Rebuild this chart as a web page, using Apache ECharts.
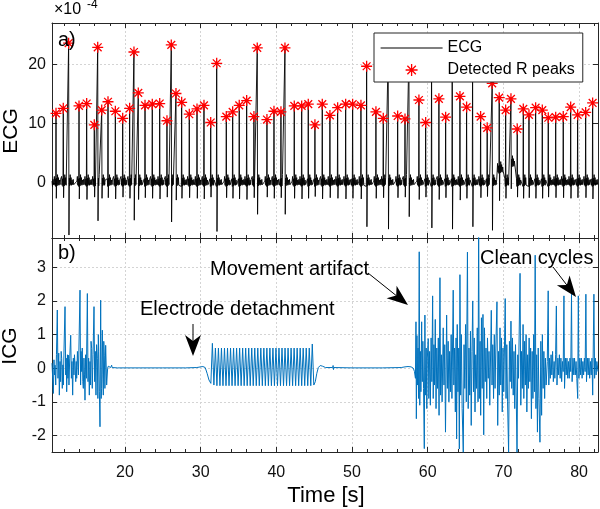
<!DOCTYPE html>
<html><head><meta charset="utf-8">
<script src="https://cdn.jsdelivr.net/npm/echarts@6/dist/echarts.min.js"></script>
<style>html,body{margin:0;padding:0;background:#fff}#c{width:600px;height:509px}</style>
</head><body><div id="c"></div>
<script>
// ---------- data ----------
const xRange = [10.36, 82.5];
const ecgRange = [-9.3, 27];      // x 1e-4
const icgRange = [-2.49, 3.87];

// detected R peaks (time s, value x1e-4) and S-trough depth per beat
const rTimes = [10.89,11.85,12.56,13.93,14.94,15.95,16.40,16.93,17.76,18.73,
  19.70,20.62,21.19,21.76,22.65,23.61,24.59,25.55,26.12,26.74,
  27.49,28.50,29.52,30.44,31.33,32.12,33.39,34.23,35.10,36.08,
  37.04,37.48,38.76,39.69,40.61,41.14,42.37,43.35,44.22,45.10,
  46.07,47.08,48.10,49.16,50.08,51.18,51.93,53.16,54.13,54.78,
  56.03,57.00,57.52,58.84,59.73,60.51,61.48,62.37,63.24,64.26,
  65.14,65.93,66.99,67.86,68.52,69.45,70.30,71.00,71.83,72.63,
  73.38,74.26,75.14,75.93,76.91,77.91,78.89,79.81,80.87,81.79];
const rVals = [11.75,12.6,23.6,13.0,13.4,9.8,22.9,12.3,13.7,12.1,
  10.9,12.6,22.1,15.2,13.1,13.3,13.4,10.5,23.3,15.1,
  13.6,11.6,12.5,13.1,10.2,20.2,11.2,12.0,13.1,13.9,
  11.2,22.8,10.7,12.1,12.0,22.8,13.0,13.0,13.3,9.8,
  13.3,11.4,12.7,13.3,13.3,13.1,19.7,12.0,10.9,22.0,
  11.3,10.8,22.0,14.0,10.2,22.0,14.2,11.1,22.0,14.6,
  12.8,22.0,11.2,9.3,16.8,14.4,12.3,14.2,9.1,12.5,
  11.5,12.7,12.3,11.0,11.1,11.2,12.8,11.5,11.9,13.5];
const sVals = [-2.6,-2.5,-8.8,-2.7,-2.8,-2.4,-6.4,-2.6,-2.5,-2.7,
  -2.4,-2.6,-6.3,-2.8,-2.5,-2.6,-2.7,-2.4,-6.6,-2.9,
  -2.6,-2.5,-2.6,-2.7,-2.4,-8.2,-2.5,-2.6,-2.7,-2.8,
  -2.5,-5.3,-2.4,-2.6,-2.5,-5.3,-2.6,-2.7,-2.6,-2.3,
  -2.7,-2.5,-2.6,-2.7,-2.6,-2.7,-7.4,-2.6,-2.5,-7.8,
  -2.5,-2.4,-5.7,-2.8,-2.4,-7.6,-2.8,-2.5,-7.8,-2.9,
  -2.6,-7.4,-2.5,-2.3,-8.0,-3.0,-2.6,-1.0,-2.4,-2.6,
  -2.5,-2.6,-2.6,-2.4,-2.5,-2.5,-2.6,-2.5,-2.5,-2.7];
// small baseline wiggles around each beat (offset s, value x1e-4)
const preWiggle = [[-0.28,0.3],[-0.22,1.1],[-0.16,-0.4],[-0.1,0.7],[-0.04,-0.6]];
const postWiggle = [[0.09,0.8],[0.14,-0.5],[0.2,1.4],[0.26,-0.3],[0.32,0.9],[0.38,-0.4],[0.45,0.5],[0.53,-0.3],[0.6,0.6],[0.67,-0.3]];
const ecgLead = [[10.36,0.3],[10.43,-0.6],[10.5,0.6],[10.56,-0.3]];
const ecgBumps = [[69.45,2.2],[71.00,3.2]];   // baseline lift near these beats

// ICG segments [time s, value]
const icgSeg1 = [[10.36,0.15],[10.45,0.19],[10.54,-0.75],[10.62,0.25],[10.7,-0.2],[10.76,0.09],[10.85,-0.5],[10.95,0.4],[11.06,1.73],[11.15,-0.3],[11.25,0.45],[11.33,-0.8],[11.42,0.2],[11.5,-0.4],[11.57,0.5],[11.64,0.29],[11.72,-0.6],[11.8,0.1],[11.86,-0.5],[11.95,0.6],[12.08,1.83],[12.17,-0.2],[12.24,0.3],[12.3,-0.7],[12.4,0.4],[12.46,-0.3],[12.52,0.39],[12.6,-0.5],[12.7,0.3],[12.83,0.98],[12.92,-0.3],[13.0,0.2],[13.09,-0.8],[13.18,0.3],[13.26,-0.2],[13.33,0.4],[13.4,0.09],[13.5,-0.4],[13.56,0.2],[13.62,-0.3],[13.72,0.5],[13.85,-0.2],[14.06,2.32],[14.14,-0.5],[14.2,0.5],[14.28,-0.1],[14.36,0.6],[14.43,-0.4],[14.5,-0.6],[14.58,0.3],[14.65,-0.2],[14.72,-0.95],[14.8,0.4],[14.9,-0.3],[15.03,2.22],[15.12,-0.4],[15.2,0.3],[15.29,-0.8],[15.38,0.2],[15.46,-0.5],[15.52,0.8],[15.6,0.59],[15.68,-0.6],[15.78,0.4],[15.91,1.83],[16.0,-0.4],[16.08,0.5],[16.17,-0.8],[16.25,0.7],[16.35,0.29],[16.42,-0.9],[16.48,1.0],[16.53,0.49],[16.62,-0.7],[16.7,-1.74],[16.79,2.02],[16.86,-0.9],[16.92,-0.6],[17.01,1.13],[17.08,-0.2],[17.14,-0.8],[17.2,0.8],[17.27,0.39],[17.35,-0.6],[17.45,0.68],[17.58,-0.5],[17.71,0.0],[17.8,0.06],[17.93,0.04],[18.1,0.02],[18.24,0.09],[18.3,0.02],[18.46,0.02]];
const icgSeg2 = [[19,0.01],[22,0.01],[25,0.01],[28,0.01],[29.5,0.02],[30.0,0.04],[30.3,0.05],[30.6,0.02],[30.85,-0.15],[31.1,-0.35],[31.35,-0.45],[31.5,-0.5],
 [31.55,0.74],[31.75,-0.5],[31.95,0.6],[32.15,-0.52],[32.35,0.6],[32.55,-0.52],[32.75,0.6],[32.95,-0.52],[33.15,0.6],[33.35,-0.52],[33.55,0.6],[33.75,-0.52],[33.95,0.6],[34.15,-0.52],[34.35,0.6],[34.55,-0.52],[34.75,0.6],[34.95,-0.52],[35.15,0.6],[35.35,-0.52],[35.55,0.6],[35.75,-0.52],[35.95,0.6],[36.15,-0.52],[36.35,0.6],[36.55,-0.52],[36.75,0.6],[36.95,-0.52],[37.15,0.6],[37.35,-0.52],[37.55,0.6],[37.75,-0.52],[37.95,0.6],[38.15,-0.52],[38.35,0.6],[38.55,-0.52],[38.75,0.6],[38.95,-0.52],[39.15,0.6],[39.35,-0.52],[39.55,0.6],[39.75,-0.52],[39.95,0.6],[40.15,-0.52],[40.35,0.6],[40.55,-0.52],[40.75,0.6],[40.95,-0.52],[41.15,0.6],[41.35,-0.52],[41.55,0.6],[41.75,-0.52],[41.95,0.6],[42.15,-0.52],[42.35,0.6],[42.55,-0.52],[42.75,0.6],[42.95,-0.52],[43.15,0.6],[43.35,-0.52],[43.55,0.6],[43.75,-0.52],[43.95,0.6],[44.15,-0.52],[44.35,0.6],[44.55,-0.52],[44.75,0.72],
 [44.95,-0.5],[45.15,-0.4],[45.35,-0.15],[45.55,0.02],[45.8,0.08],[46.1,0.06],[46.5,0.02],[47.45,0.02],[47.5,0.08],[47.55,-0.04],[47.62,0.02],[50,0.01],[54,0.01],[56.5,0.02],[57.0,0.04],[57.4,0.05],[57.8,0.04],[58.1,0.0],[58.25,-0.1]];
const icgSeg3 = [[58.38,-0.3],[58.45,1.38],[58.5,-1.5],[58.58,0.97],[58.65,-0.5],[58.72,0.6],[58.8,-0.9],[58.88,3.46],[58.95,-1.1],[59.03,0.5],[59.1,-0.7],[59.2,1.38],[59.28,-0.4],[59.36,0.8],[59.45,-0.6],[59.55,-2.39],[59.63,1.58],[59.7,-0.8],[59.8,0.6],[59.88,-1.2],[59.95,0.3],[60.07,0.88],[60.15,-0.9],[60.25,0.5],[60.35,-1.1],[60.45,0.9],[60.55,-0.4],[60.65,2.15],[60.73,-0.9],[60.82,0.7],[60.9,-0.5],[61.0,1.45],[61.1,-1.2],[61.2,0.6],[61.3,-0.6],[61.4,0.9],[61.5,-1.4],[61.62,2.69],[61.7,-0.8],[61.8,0.4],[61.9,-1.0],[62.05,1.2],[62.15,-0.5],[62.25,0.7],[62.35,-1.9],[62.5,1.58],[62.6,-0.6],[62.7,0.8],[62.8,-1.0],[62.9,0.5],[63.0,-0.7],[63.1,1.0],[63.2,-0.9],[63.37,2.32],[63.45,-0.5],[63.55,0.6],[63.65,-1.3],[63.75,0.9],[63.82,-2.1],[63.9,1.3],[64.0,-0.7],[64.1,0.6],[64.18,-2.4],[64.26,2.78],[64.35,-0.8],[64.45,1.0],[64.55,-1.2],[64.7,-2.5],[64.8,0.7],[64.9,-0.6],[65.0,1.3],[65.1,-1.0],[65.25,3.45],[65.35,-1.2],[65.45,0.6],[65.55,-0.8],[65.65,1.1],[65.75,-1.7],[65.85,0.5],[65.95,2.0],[66.05,-0.7],[66.15,0.9],[66.25,-1.3],[66.35,0.4],[66.45,-0.6],[66.55,1.2],[66.65,-1.0],[66.73,4.3],[66.82,-0.9],[66.92,0.8],[67.0,-1.4],[67.1,1.5],[67.2,-0.6],[67.3,1.6],[67.4,-1.98],[67.5,1.2],[67.6,-0.4],[67.7,0.6],[67.8,-0.9],[67.9,0.9],[68.0,-0.3],[68.1,0.5],[68.2,-1.1],[68.4,1.72],[68.5,-0.5],[68.6,0.7],[68.7,-0.9],[68.8,1.0],[68.9,-0.6],[69.0,0.6],[69.15,1.97],[69.25,-1.7],[69.35,0.5],[69.45,-0.8],[69.55,1.2],[69.65,-0.5],[69.75,0.9],[69.85,-1.3],[69.95,0.6],[70.05,-0.7],[70.24,2.07],[70.35,-0.9],[70.45,0.7],[70.55,-1.0],[70.69,-2.5],[70.8,0.8],[70.9,-0.4],[71.0,1.4],[71.1,-0.6],[71.2,0.9],[71.3,-0.8],[71.4,0.5],[71.5,-1.2],[71.6,0.7],[71.8,-2.5],[71.9,0.4],[72.0,-0.3],[72.2,2.82],[72.3,-1.1],[72.4,0.5],[72.5,-0.6],[72.6,1.3],[72.7,-0.9],[72.8,0.8],[72.9,-0.5],[73.0,1.0],[73.1,-1.3],[73.2,0.4],[73.3,-0.6],[73.4,0.9],[73.5,-0.4],[73.6,0.6],[73.7,-1.5],[73.8,0.5],[73.9,-0.9],[74.0,1.0],[74.1,-0.7],[74.2,3.36],[74.3,-1.2],[74.4,0.4],[74.5,-1.9],[74.6,0.6],[74.7,-0.9],[74.83,-2.2],[74.95,0.8],[75.05,-1.4],[75.15,1.0],[75.25,-0.6],[75.35,0.5],[75.45,-0.9],[75.55,0.3],[75.65,-0.5],[75.8,0.2],[75.92,2.3],[76.0,-0.5],[76.1,0.3],[76.2,-0.3],[76.3,0.4],[76.4,-0.2],[76.5,0.5],[76.6,-0.4],[76.7,0.2],[76.8,-0.3],[76.9,0.4],[77.0,1.85],[77.08,-0.5],[77.2,0.3],[77.3,-0.2],[77.4,0.4],[77.5,-0.3],[77.6,0.3],[77.7,-0.4],[77.8,0.2],[77.9,-0.1],[78.0,2.15],[78.08,-0.6],[78.2,0.3],[78.3,-0.2],[78.4,0.3],[78.5,-0.3],[78.6,0.2],[78.7,-0.3],[78.8,0.3],[78.9,-0.1],[79.0,2.2],[79.08,-0.4],[79.2,0.3],[79.3,-0.2],[79.4,0.3],[79.5,-0.2],[79.6,0.2],[79.7,-0.3],[79.82,-0.9],[79.9,2.15],[79.98,-0.3],[80.1,0.3],[80.2,-0.2],[80.3,0.3],[80.4,-0.3],[80.5,0.2],[80.6,-0.2],[80.7,0.3],[80.8,-0.1],[80.9,2.2],[80.98,-0.4],[81.1,0.3],[81.2,-0.2],[81.3,0.3],[81.4,-0.3],[81.5,0.2],[81.6,-0.2],[81.7,0.3],[81.8,-0.8],[81.96,2.2],[82.05,-0.3],[82.15,0.3],[82.25,-0.2],[82.35,0.2],[82.5,-0.1]];

// ---------- build ----------
const ecgLine = ecgLead.slice();
rTimes.forEach((t, i) => {
  const prev = i > 0 ? rTimes[i-1] : -Infinity;
  const next = i < rTimes.length-1 ? rTimes[i+1] : Infinity;
  const bump = ecgBumps.find(b => b[0] === t);
  const base = bump ? bump[1] : 0;
  preWiggle.forEach(([o,v]) => { if (t+o > prev+0.7 || (prev === -Infinity && t+o > 10.56)) ecgLine.push([+(t+o).toFixed(3), base+v]); });
  ecgLine.push([t, rVals[i]]);
  ecgLine.push([+(t+0.04).toFixed(3), sVals[i]]);
  postWiggle.forEach(([o,v]) => { if (t+o < next-0.3 && t+o <= xRange[1]) ecgLine.push([+(t+o).toFixed(3), base+v]); });
});
const peaks = rTimes.map((t,i) => [t, rVals[i]]);
const icgLine = icgSeg1.concat(icgSeg2, icgSeg3);

const FF = '"Liberation Sans", Arial, Helvetica, sans-serif';
const AX = '#262626';
const STAR = 'path://M0,-10L0,10M-10,0L10,0M-7.07,-7.07L7.07,7.07M-7.07,7.07L7.07,-7.07';

function xAx(grid, pos, labels, split) {
  return {
    type:'value', gridIndex:grid, position:pos, min:xRange[0], max:xRange[1],
    axisLine:{show:true, onZero:false, lineStyle:{color:AX, width:1}},
    axisTick:{show:true, inside:true, length:5, lineStyle:{color:AX}},
    minorTick:{show:true, splitNumber:5, length:3, lineStyle:{color:AX}},
    axisLabel:{show:labels, showMinLabel:false, showMaxLabel:false, fontSize:16, fontFamily:FF, color:'#111', margin:13},
    splitLine:{show:split, lineStyle:{color:'#d4d4d4', type:[2,2], width:1}}
  };
}
function yAx(grid, pos, range, labels, split) {
  return {
    type:'value', gridIndex:grid, position:pos, min:range[0], max:range[1],
    axisLine:{show:true, onZero:false, lineStyle:{color:AX, width:1}},
    axisTick:{show:true, inside:true, length:5, lineStyle:{color:AX}},
    axisLabel:{show:labels, showMinLabel:false, showMaxLabel:false, fontSize:16, fontFamily:FF, color:'#111', margin:6},
    splitLine:{show:split, lineStyle:{color:'#d4d4d4', type:[2,2], width:1}}
  };
}
function txt(text, x, y, size, extra) {
  return Object.assign({type:'text', x:x, y:y, z:100, style:{text:text, fontSize:size, fontFamily:FF, fill:'#000', align:'left', verticalAlign:'middle'}}, extra||{});
}
function arrow(x1,y1,x2,y2) {
  const dx=x2-x1, dy=y2-y1, L=Math.hypot(dx,dy), ux=dx/L, uy=dy/L, nx=-uy, ny=ux;
  const hl=21, hw=8, bx=x2-hl*ux, by=y2-hl*uy, mx=x2-hl*0.72*ux, my=y2-hl*0.72*uy;
  return [
    {type:'line', z:100, shape:{x1:x1,y1:y1,x2:mx,y2:my}, style:{stroke:'#000', lineWidth:1}},
    {type:'polygon', z:100, shape:{points:[[x2,y2],[bx+hw*nx,by+hw*ny],[mx,my],[bx-hw*nx,by-hw*ny]]}, style:{fill:'#000'}}
  ];
}

const option = {
  animation:false,
  grid:[
    {left:52, right:2, top:23, height:215},
    {left:52, right:2, top:238, height:214}
  ],
  xAxis:[ xAx(0,'bottom',false,true), xAx(0,'top',false,false), xAx(1,'bottom',true,true), xAx(1,'top',false,false) ],
  yAxis:[ yAx(0,'left',ecgRange,true,true), yAx(0,'right',ecgRange,false,false), yAx(1,'left',icgRange,true,true), yAx(1,'right',icgRange,false,false) ],
  legend:{
    left:374, top:33, orient:'vertical', itemWidth:62, itemHeight:12, itemGap:6, padding:[7,8,4,6],
    backgroundColor:'#fff', borderColor:AX, borderWidth:1,
    textStyle:{fontSize:16, fontFamily:FF, color:'#000'},
    data:[
      {name:'ECG', itemStyle:{color:'rgba(0,0,0,0)', borderColor:'rgba(0,0,0,0)', borderWidth:0, opacity:0}, lineStyle:{color:'#000', width:1.2}},
      {name:'Detected R peaks', icon:STAR, itemStyle:{color:'#ff0000', borderColor:'#ff0000', borderWidth:1.3}}
    ]
  },
  series:[
    {name:'ECG', type:'line', xAxisIndex:0, yAxisIndex:0, data:ecgLine, symbol:'none', showSymbol:false,
     lineStyle:{color:'#000', width:0.9}, itemStyle:{color:'#000'}, z:2},
    {name:'Detected R peaks', type:'scatter', xAxisIndex:0, yAxisIndex:0, data:peaks, symbol:STAR, symbolSize:11, symbolKeepAspect:true,
     itemStyle:{color:'#ff0000', borderColor:'#ff0000', borderWidth:1.3, opacity:1}, z:3},
    {name:'ICG', type:'line', xAxisIndex:2, yAxisIndex:2, data:icgLine, symbol:'none', showSymbol:false, sampling:null,
     lineStyle:{color:'#0072BD', width:1}, z:2}
  ],
  graphic:[
    txt('ECG', 11, 131, 21, {rotation:Math.PI/2, style:{text:'ECG', fontSize:21, fontFamily:FF, fill:'#000', align:'center', verticalAlign:'middle'}}),
    txt('ICG', 10, 346, 21, {rotation:Math.PI/2, style:{text:'ICG', fontSize:21, fontFamily:FF, fill:'#000', align:'center', verticalAlign:'middle'}}),
    txt('Time [s]', 326, 496, 22, {style:{text:'Time [s]', fontSize:22, fontFamily:FF, fill:'#000', align:'center', verticalAlign:'middle'}}),
    txt('\u00d710', 54, 10, 16),
    txt('-4', 87, 5, 12),
    txt('a)', 58, 40, 20),
    txt('b)', 58, 253, 20),
    txt('Electrode detachment', 140, 309, 20),
    txt('Movement artifact', 210, 269, 20),
    txt('Clean cycles', 480, 258, 20)
  ].concat(arrow(193,324,193,356), arrow(368,273,408,305), arrow(553,267,576,297))
};
const chart = echarts.init(document.getElementById('c'), null, {renderer:'canvas'});
chart.setOption(option);
</script></body></html>
